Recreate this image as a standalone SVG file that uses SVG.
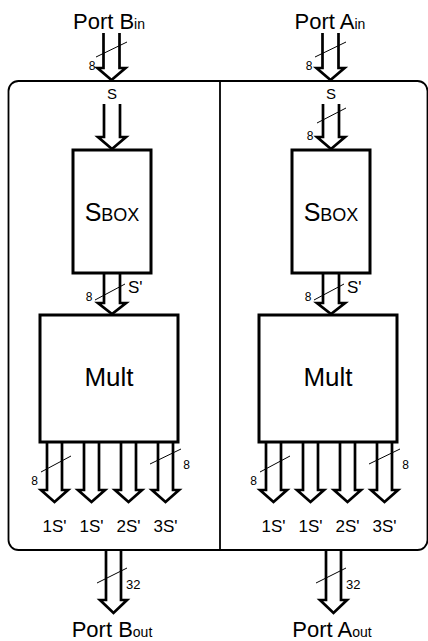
<svg xmlns="http://www.w3.org/2000/svg" width="428" height="641" viewBox="0 0 428 641">
<style>
text{font-family:"Liberation Sans",Arial,sans-serif;fill:#000}
.box{fill:#fff;stroke:#000;stroke-width:3}
.frame{fill:none;stroke:#000;stroke-width:1.8}
.arr{fill:none;stroke:#000;stroke-width:2.7;stroke-linejoin:miter}
.sl{stroke:#000;stroke-width:1}
.port{font-size:22px;text-anchor:middle}
.sub{font-size:14px}
.sm{font-size:12px}
.lbl{font-size:17px;text-anchor:middle}
</style>
<rect id="frame" class="frame" x="8.5" y="81" width="419" height="469" rx="10"/>
<line class="frame" x1="220" y1="81" x2="220" y2="550"/>

<g id="port-b-in"><text class="port" x="109" y="29">Port B<tspan class="sub">in</tspan></text></g>
<g id="port-a-in"><text class="port" x="330" y="29">Port A<tspan class="sub">in</tspan></text></g>

<g id="sbox-b"><rect class="box" x="73" y="150" width="78" height="123"/>
<text x="112" y="221" text-anchor="middle"><tspan font-size="25">S</tspan><tspan font-size="18">BOX</tspan></text></g>
<g id="sbox-a"><rect class="box" x="292" y="150" width="78" height="123"/>
<text x="331" y="221" text-anchor="middle"><tspan font-size="25">S</tspan><tspan font-size="18">BOX</tspan></text></g>

<g id="mult-b"><rect class="box" x="40" y="315" width="138" height="127"/>
<text x="109" y="386" text-anchor="middle" font-size="26">Mult</text></g>
<g id="mult-a"><rect class="box" x="259" y="315" width="138" height="127"/>
<text x="328" y="386" text-anchor="middle" font-size="26">Mult</text></g>

<g id="port-b-out"><text class="port" x="112" y="637">Port B<tspan class="sub">out</tspan></text></g>
<g id="port-a-out"><text class="port" x="332" y="637">Port A<tspan class="sub">out</tspan></text></g>

<g id="connectors">
<!-- left column -->
<path class="arr" d="M103.5 33V68H97.5L111.5 80L125.5 68H119.5V33"/>
<path class="arr" d="M104 104V137H98L112 149L126 137H120V104"/>
<path class="arr" d="M104 273V303H98L112 314L126 303H120V273"/>
<path class="arr" d="M47 442V490H41L54.5 502L68 490H62V442"/>
<path class="arr" d="M84 442V490H78L91.5 502L105 490H99V442"/>
<path class="arr" d="M121 442V490H115L128.5 502L142 490H136V442"/>
<path class="arr" d="M158 442V490H152L165.5 502L179 490H173V442"/>
<path class="arr" d="M106 550V600H100L113.5 613L127 600H121V550"/>
<!-- right column -->
<path class="arr" d="M322.5 33V68H316.5L330.5 80L344.5 68H338.5V33"/>
<path class="arr" d="M323 104V137H317L331 149L345 137H339V104"/>
<path class="arr" d="M323 273V303H317L331 314L345 303H339V273"/>
<path class="arr" d="M266 442V490H260L273.5 502L287 490H281V442"/>
<path class="arr" d="M303 442V490H297L310.5 502L324 490H318V442"/>
<path class="arr" d="M340 442V490H334L347.5 502L361 490H355V442"/>
<path class="arr" d="M377 442V490H371L384.5 502L398 490H392V442"/>
<path class="arr" d="M326 550V600H320L333.5 613L347 600H341V550"/>
<!-- bus slashes -->
<line class="sl" x1="96" y1="57" x2="127" y2="42"/>
<line class="sl" x1="95" y1="300" x2="125" y2="284"/>
<line class="sl" x1="41" y1="472" x2="71" y2="456"/>
<line class="sl" x1="150" y1="464" x2="181" y2="449"/>
<line class="sl" x1="97" y1="583" x2="127" y2="568"/>
<line class="sl" x1="315" y1="57" x2="346" y2="42"/>
<line class="sl" x1="317" y1="123" x2="346" y2="108"/>
<line class="sl" x1="314" y1="300" x2="344" y2="284"/>
<line class="sl" x1="260" y1="472" x2="290" y2="456"/>
<line class="sl" x1="369" y1="464" x2="400" y2="449"/>
<line class="sl" x1="316" y1="583" x2="346" y2="568"/>
<!-- labels -->
<text class="sm" x="92" y="70" text-anchor="middle">8</text>
<text x="112" y="99" text-anchor="middle" font-size="15">S</text>
<text class="sm" x="89" y="301" text-anchor="middle">8</text>
<text x="128" y="293" font-size="17">S'</text>
<text class="sm" x="34.5" y="485" text-anchor="middle">8</text>
<text class="sm" x="186.5" y="469" text-anchor="middle">8</text>
<text x="126" y="589" font-size="13">32</text>
<text class="lbl" x="54.5" y="532">1S'</text>
<text class="lbl" x="91.5" y="532">1S'</text>
<text class="lbl" x="128.5" y="532">2S'</text>
<text class="lbl" x="165.5" y="532">3S'</text>
<text class="sm" x="309" y="70" text-anchor="middle">8</text>
<text x="331" y="99" text-anchor="middle" font-size="15">S</text>
<text class="sm" x="310" y="140" text-anchor="middle">8</text>
<text class="sm" x="308" y="301" text-anchor="middle">8</text>
<text x="347" y="293" font-size="17">S'</text>
<text class="sm" x="253.5" y="485" text-anchor="middle">8</text>
<text class="sm" x="405.5" y="469" text-anchor="middle">8</text>
<text x="346" y="589" font-size="13">32</text>
<text class="lbl" x="273.5" y="532">1S'</text>
<text class="lbl" x="310.5" y="532">1S'</text>
<text class="lbl" x="347.5" y="532">2S'</text>
<text class="lbl" x="384.5" y="532">3S'</text>
</g>
</svg>
